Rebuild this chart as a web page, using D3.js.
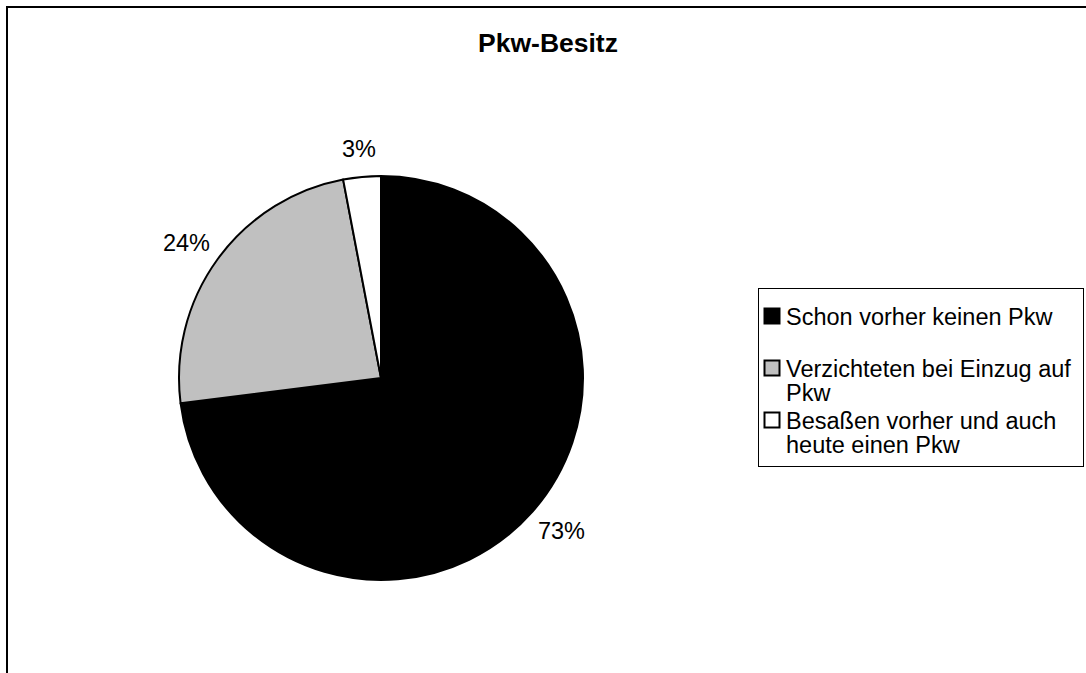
<!DOCTYPE html>
<html>
<head>
<meta charset="utf-8">
<script src="https://cdn.jsdelivr.net/npm/d3@7"></script>
<style>
  html, body { margin: 0; padding: 0; background: #fff; }
  svg { display: block; font-family: "Liberation Sans", Arial, sans-serif; }
</style>
</head>
<body>
<svg id="chart" width="1086" height="673"></svg>
<script>
const categories = ["Schon vorher keinen Pkw", "Verzichteten bei Einzug auf Pkw", "Besaßen vorher und auch heute einen Pkw"];
const legendLines = [["Schon vorher keinen Pkw"], ["Verzichteten bei Einzug auf", "Pkw"], ["Besaßen vorher und auch", "heute einen Pkw"]];
const values = [73, 24, 3];
const labels = ["73%", "24%", "3%"];
const colors = ["#000000", "#C0C0C0", "#FFFFFF"];
const title = "Pkw-Besitz";

const svg = d3.select("#chart");
const W = 1086, H = 673;

// outer frame (extends past right/bottom edges)
svg.append("rect").attr("x", 7).attr("y", 7).attr("width", W + 20).attr("height", H + 20)
  .attr("fill", "#fff").attr("stroke", "#000").attr("stroke-width", 2);

// title
svg.append("text").attr("x", 548).attr("y", 52).attr("text-anchor", "middle")
  .attr("font-weight", "bold").attr("font-size", 26.5).attr("fill", "#000").text(title);

const cx = 381, cy = 378, r = 202;
const pie = d3.pie().sort(null).value(d => d);
const arcs = pie(values);
const arc = d3.arc().innerRadius(0).outerRadius(r);

const g = svg.append("g").attr("transform", `translate(${cx},${cy})`);
g.selectAll("path").data(arcs).enter().append("path")
  .attr("d", arc).attr("fill", (d, i) => colors[i])
  .attr("stroke", "#000").attr("stroke-width", 2).attr("stroke-linejoin", "round");

// labels outside
const fs = 23.5;
const lblR = 217;
arcs.forEach((d, i) => {
  const a = (d.startAngle + d.endAngle) / 2;
  const ux = Math.sin(a), uy = -Math.cos(a);
  const t = g.append("text").attr("font-size", fs).attr("fill", "#000")
    .attr("text-anchor", "middle").text(labels[i]);
  const bw = t.node().getComputedTextLength();
  const hw = bw / 2, hh = 13.5;
  const x = lblR * ux + hw * ux;
  const yc = lblR * uy + hh * uy;
  t.attr("x", x).attr("y", yc + fs * 0.36);
});

// legend
const lg = svg.append("g");
lg.append("rect").attr("x", 758.5).attr("y", 288.5).attr("width", 325).attr("height", 178)
  .attr("fill", "#fff").attr("stroke", "#000").attr("stroke-width", 1);
const baselines = [325, 377, 429];
const lineH = 24;
legendLines.forEach((lines, i) => {
  const b = baselines[i];
  lg.append("rect").attr("x", 764.5).attr("y", b - 16.5).attr("width", 15).attr("height", 15)
    .attr("fill", colors[i]).attr("stroke", "#000").attr("stroke-width", 2);
  const t = lg.append("text").attr("font-size", fs).attr("fill", "#000");
  lines.forEach((ln, j) => {
    t.append("tspan").attr("x", 786).attr("y", b + j * lineH).text(ln);
  });
});
</script>
</body>
</html>
